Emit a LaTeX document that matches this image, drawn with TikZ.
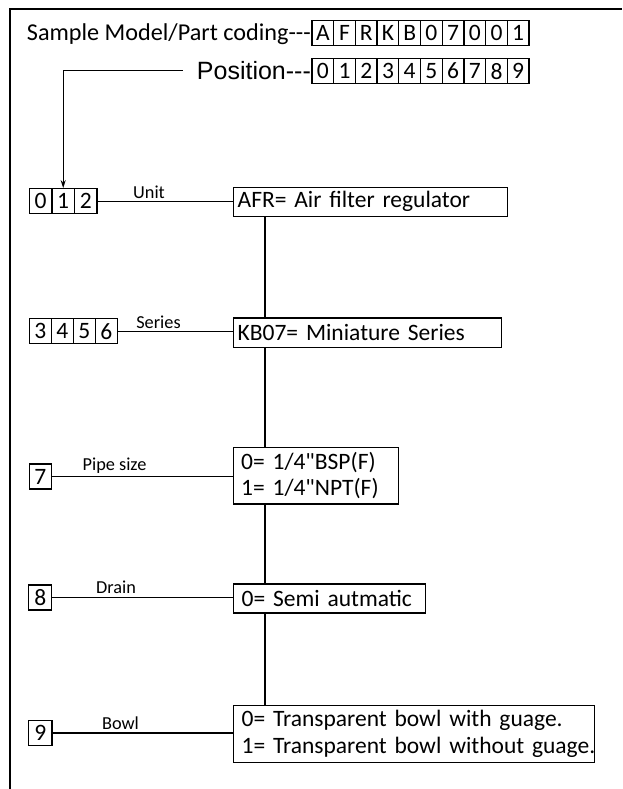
\documentclass[tikz,border=0pt]{standalone}
\usepackage{fontspec}
\newfontfamily\carlito{Carlito}
\newfontfamily\arialfont{Liberation Sans}
\usetikzlibrary{arrows.meta}
\begin{document}
\begin{tikzpicture}[x=1pt,y=-1pt,line width=1.3pt,
  bigfont/.style={font=\carlito\fontsize{23.5}{26.5}\selectfont},
  cell/.style={draw, bigfont, minimum width=21.7pt, minimum height=25pt, inner sep=0pt},
  codebox/.style={draw, bigfont, minimum height=25pt, inner sep=0pt},
  mainbox/.style={draw, bigfont, anchor=north west, align=left, inner ysep=0pt},
  lbl/.style={font=\carlito\fontsize{18.3}{20}\selectfont, inner sep=0pt, anchor=base},
  conn/.style={line width=1.3pt}]
\useasboundingbox (0,0) rectangle (622,789);
% frame
\draw[line width=1.5pt] (10,789) -- (10,9) -- (622,9);
% title rows
\node[font=\carlito\fontsize{24.2}{27}\selectfont, anchor=base east, inner sep=0pt] (title) at (311.5,40.7) {Sample Model/Part coding---};
\foreach \c [count=\i from 0] in {A,F,R,K,B,0,7,0,0,1}
  \node[cell] (t\i) at ({312+21.7*(\i+0.5)},33.2) {\c};
\node[font=\arialfont\fontsize{25}{28}\selectfont, anchor=base east, inner sep=0pt] (pos) at (311.5,79.6) {Position---};
\foreach \c [count=\i from 0] in {0,...,9}
  \node[cell] (p\i) at ({312+21.7*(\i+0.5)},71.1) {\c};
% unit cells
\foreach \c [count=\i from 0] in {0,1,2}
  \node[cell, minimum width=22.6pt] (u\i) at ({29.3+22.6*(\i+0.5)},201.3) {\c};
% series cells
\foreach \c [count=\i from 0] in {3,4,5,6}
  \node[cell, minimum width=22pt] (s\i) at ({29.3+22*(\i+0.5)},331.2) {\c};
\node[codebox, minimum width=22pt] (c7) at (40.3,476.6) {7};
\node[codebox, minimum width=23pt] (c8) at (40.3,597.4) {8};
\node[codebox, minimum width=23.5pt] (c9) at (40.3,733) {9};
% main boxes
\node[mainbox, inner xsep=4pt, text width=266pt, minimum height=29pt] (afr) at (233,186.7) {AFR= Air filter regulator};
\node[mainbox, inner xsep=4pt, text width=260pt, minimum height=29.4pt] (kb) at (233,317.3) {KB07= Miniature Series};
\node[mainbox, inner xsep=7.5pt, text width=149.7pt, minimum height=56.6pt] (pipe) at (233,446.7) {0= 1/4"BSP(F)\\1= 1/4"NPT(F)};
\node[mainbox, inner xsep=8pt, text width=175.6pt, minimum height=29pt] (drain) at (233,583.3) {0= Semi autmatic};
\node[mainbox, inner xsep=8pt, text width=345pt, minimum height=56.7pt] (bowl) at (233,705) {\mbox{0= Transparent bowl with guage.}\\\mbox{1= Transparent bowl without guage.}};
% labels
\node[lbl] (lunit) at (149,198.5) {Unit};
\node[lbl] (lseries) at (158.5,328.3) {Series};
\node[lbl] (lpipe) at (114.5,470.7) {Pipe size};
\node[lbl] (ldrain) at (116,593.3) {Drain};
\node[lbl] (lbowl) at (120.5,729) {Bowl};
% position arrow
\coordinate (pl) at (182.7,70.7);
\draw[conn, -{Stealth[length=8pt,width=5pt]}] (pl) -| (u1.north);
% horizontal connectors
\draw[conn] (u2.east) -- (u2.east -| afr.west);
\draw[conn] (s3.east) -- (s3.east -| kb.west);
\draw[conn] (c7.east) -- (c7.east -| pipe.west);
\draw[conn] (c8.east) -- (c8.east -| drain.west);
\draw[conn] (c9.east) -- (c9.east -| bowl.west);
% vertical spine
\coordinate (vx) at (265,0);
\draw[conn] (afr.south -| vx) -- (kb.north -| vx);
\draw[conn] (kb.south -| vx) -- (pipe.north -| vx);
\draw[conn] (pipe.south -| vx) -- (drain.north -| vx);
\draw[conn] (drain.south -| vx) -- (bowl.north -| vx);
\end{tikzpicture}
\end{document}
